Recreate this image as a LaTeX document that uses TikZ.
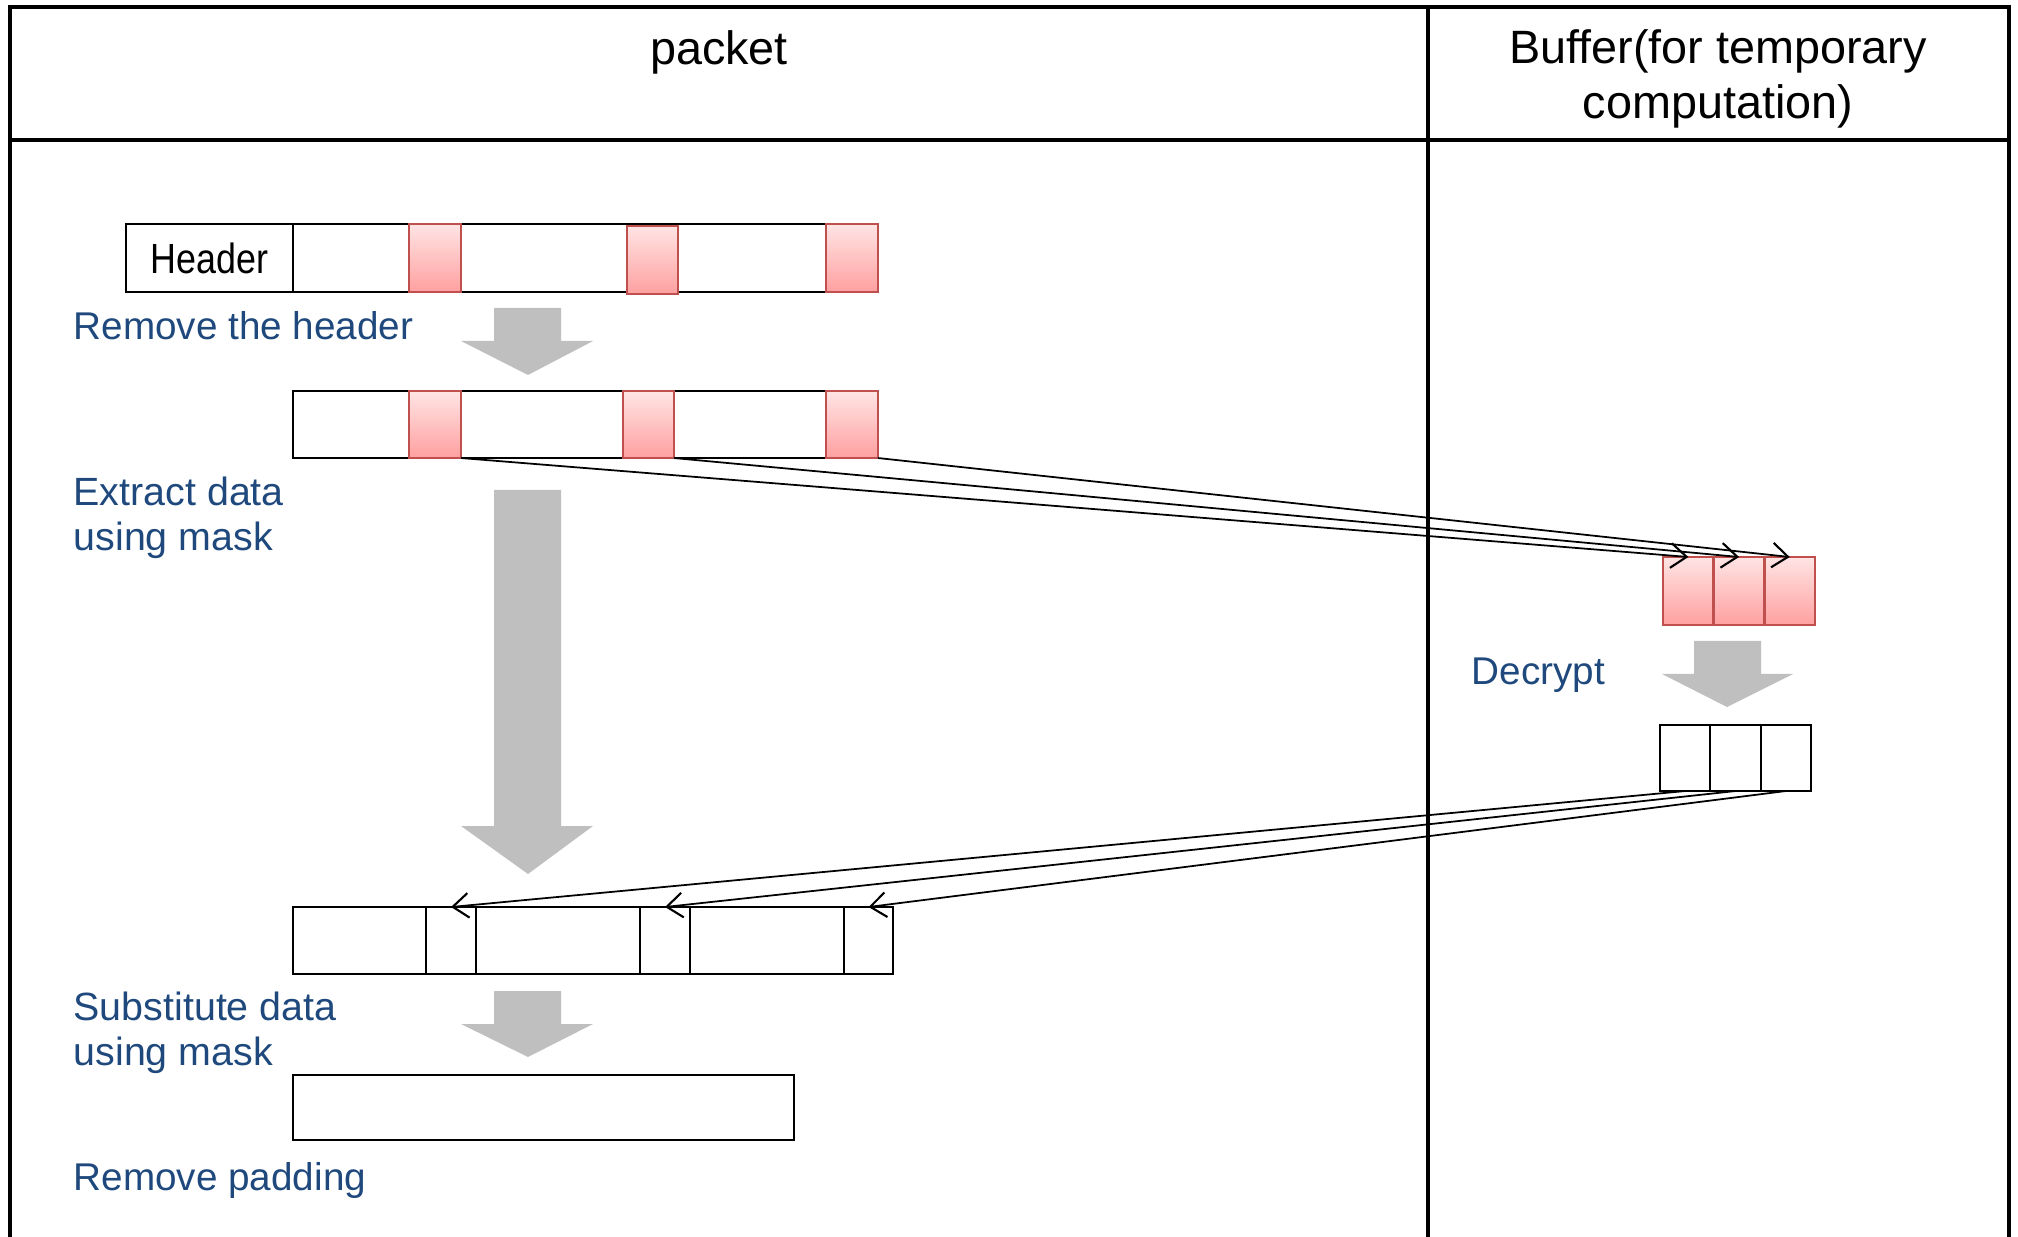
\documentclass[tikz,border=0pt]{standalone}
\usepackage{fontspec}
\setmainfont{Liberation Sans}
\newfontfamily\narrowfont[FakeStretch=0.85]{Liberation Sans}
\usetikzlibrary{arrows.meta}
\definecolor{lblue}{RGB}{31,73,125}
\definecolor{pinkedge}{RGB}{192,80,77}
\definecolor{pinktop}{RGB}{255,228,228}
\definecolor{pinkbot}{RGB}{255,160,160}
\definecolor{flowgray}{RGB}{191,191,191}
\begin{document}
\begin{tikzpicture}[x=0.01cm,y=-0.01cm,
  frame/.style={line width=1.1pt},
  cell/.style={draw=black, line width=0.6pt, fill=white, inner sep=0pt, outer sep=0pt, anchor=north west, minimum height=0.68cm},
  pinkcell/.style={draw=pinkedge, line width=0.7pt, top color=pinktop, bottom color=pinkbot, inner sep=0pt, outer sep=0pt, anchor=north west, minimum height=0.68cm},
  hdrtext/.style={font=\fontsize{13.3}{15.6}\selectfont, align=center, inner sep=0pt},
  lbl/.style={font=\fontsize{11}{12.8}\selectfont, text=lblue, align=left, anchor=west, inner sep=0pt},
  conn/.style={line width=0.5pt, -{Straight Barb[length=4.5pt,width=7pt,line width=0.6pt]}},
  flow/.style={fill=flowgray, draw=none}
]
\useasboundingbox (0,0) rectangle (2018,1237);
% table frame
\draw[frame] (10,1237) -- (10,7) -- (2009,7) -- (2009,1237);
\draw[frame] (10,140) -- (2009,140);
\draw[frame] (1428,7) -- (1428,1237);
\node[hdrtext] (tpacket) at (719,52) {packet};
\node[hdrtext] (tbuf) at (1718,79) {Buffer(for temporary\\computation)};

% row A
\node[cell, minimum width=1.67cm, font=\narrowfont\fontsize{12}{14}\selectfont] (hdr) at (126,224) {Header};
\node[cell, minimum width=5.85cm] (rowA) at (293,224) {};
\node[pinkcell, minimum width=0.52cm] (pA1) at (409,224) {};
\node[pinkcell, minimum width=0.51cm] (pA2) at (627,226) {};
\node[pinkcell, minimum width=0.52cm] (pA3) at (826,224) {};
\node[lbl] (l1) at (73,326) {Remove the header};
\fill[flow] (494,308) -- (561,308) -- (561,341) -- (593,341) -- (528,375) -- (461,341) -- (494,341) -- cycle;

% row B
\node[cell, minimum width=5.85cm, minimum height=0.67cm] (rowB) at (293,391) {};
\node[pinkcell, minimum width=0.52cm, minimum height=0.67cm] (pB1) at (409,391) {};
\node[pinkcell, minimum width=0.51cm, minimum height=0.67cm] (pB2) at (623,391) {};
\node[pinkcell, minimum width=0.52cm, minimum height=0.67cm] (pB3) at (826,391) {};
\node[lbl, font=\fontsize{11.2}{12.8}\selectfont] (l2) at (73,518) {Extract data\\using mask};
\fill[flow] (494,490) -- (561,490) -- (561,826) -- (593,826) -- (528,874) -- (461,826) -- (494,826) -- cycle;

% buffer
\node[pinkcell, minimum width=0.507cm] (pbuf1) at (1663,557) {};
\node[pinkcell, minimum width=0.507cm] (pbuf2) at (1713.7,557) {};
\node[pinkcell, minimum width=0.507cm] (pbuf3) at (1764.4,557) {};
\node[lbl] (l3) at (1471,675) {Decrypt};
\fill[flow] (1694,641) -- (1761,641) -- (1761,674) -- (1793,674) -- (1727,707) -- (1662,674) -- (1694,674) -- cycle;
\node[cell, minimum width=0.503cm, minimum height=0.66cm] (wbuf1) at (1660,725) {};
\node[cell, minimum width=0.503cm, minimum height=0.66cm] (wbuf2) at (1710.3,725) {};
\node[cell, minimum width=0.503cm, minimum height=0.66cm] (wbuf3) at (1760.6,725) {};

% row C
\node[cell, minimum width=1.33cm, minimum height=0.67cm] (c0) at (293,907) {};
\node[cell, minimum width=0.50cm, minimum height=0.67cm] (c1) at (426,907) {};
\node[cell, minimum width=1.64cm, minimum height=0.67cm] (c2) at (476,907) {};
\node[cell, minimum width=0.50cm, minimum height=0.67cm] (c3) at (640,907) {};
\node[cell, minimum width=1.54cm, minimum height=0.67cm] (c4) at (690,907) {};
\node[cell, minimum width=0.49cm, minimum height=0.67cm] (c5) at (844,907) {};
\node[lbl, font=\fontsize{11.2}{12.8}\selectfont] (l4) at (73,1033) {Substitute data\\using mask};
\fill[flow] (494,991) -- (561,991) -- (561,1024) -- (593,1024) -- (528,1057) -- (461,1024) -- (494,1024) -- cycle;

% row D
\node[cell, minimum width=5.01cm, minimum height=0.65cm] (rowD) at (293,1075) {};
\node[lbl] (l5) at (73,1180) {Remove padding};

% connectors
\draw[conn] (pB1.south east) -- (pbuf1.north);
\draw[conn] (pB2.south east) -- (pbuf2.north);
\draw[conn] (pB3.south east) -- (pbuf3.north);
\draw[conn] (wbuf1.south) -- (c1.north);
\draw[conn] (wbuf2.south) -- (c3.north);
\draw[conn] (wbuf3.south) -- (c5.north);
\end{tikzpicture}
\end{document}
